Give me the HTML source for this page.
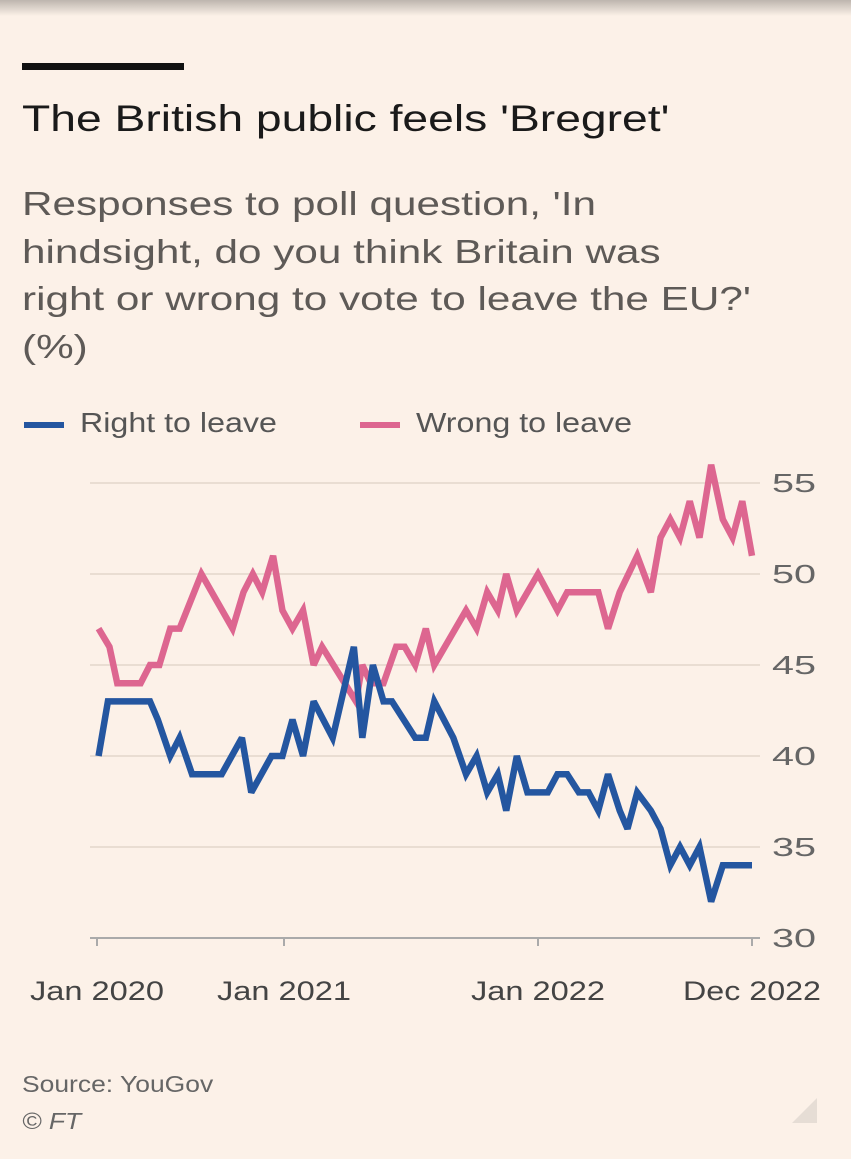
<!DOCTYPE html>
<html><head><meta charset="utf-8"><style>
body{margin:0;width:851px;height:1159px;background:#fcf1e8;font-family:"Liberation Sans",sans-serif;overflow:hidden;position:relative}
.t{position:absolute;white-space:nowrap;transform-origin:0 0}
</style></head><body>
<div style="position:absolute;left:0;top:0;width:851px;height:16px;background:linear-gradient(#bdb5ae,#fcf1e8)"></div>
<div style="position:absolute;left:22px;top:63px;width:162px;height:7px;background:#111"></div>
<div class="t" style="left:22px;top:98px;font-size:37px;color:#1a1a1a;transform:scaleX(1.25)">The British public feels 'Bregret'</div>
<div class="t" style="left:22px;top:180px;font-size:33px;line-height:47.5px;color:#5e5a57;transform:scaleX(1.28)">Responses to poll question, 'In<br>hindsight, do you think Britain was<br>right or wrong to vote to leave the EU?'<br>(%)</div>
<div style="position:absolute;left:24px;top:422px;width:40px;height:6px;background:#2456a0"></div>
<div class="t" style="left:80px;top:407px;font-size:28px;color:#555;transform:scaleX(1.15)">Right to leave</div>
<div style="position:absolute;left:360px;top:422px;width:40px;height:6px;background:#dd6690"></div>
<div class="t" style="left:416px;top:407px;font-size:28px;color:#555;transform:scaleX(1.15)">Wrong to leave</div>
<svg id="c" width="851" height="1020" style="position:absolute;left:0;top:0"></svg>
<div class="t" style="left:22px;top:1071px;font-size:23px;color:#666;transform:scaleX(1.15)">Source: YouGov</div>
<div class="t" style="left:22px;top:1108px;font-size:23px;color:#666;font-style:italic;transform:scaleX(1.15)">© FT</div>
<div style="position:absolute;left:792px;top:1098px;width:0;height:0;border-left:25px solid transparent;border-bottom:25px solid #e6ddd5"></div>
<script>
const yTicks=[30,35,40,45,50,55];
const xTickMonths=[0,12,24,35];
const xTickLabels=["Jan 2020","Jan 2021","Jan 2022","Dec 2022"];
const wrongMonths=[0.1,0.8,1.3,2.8,3.4,4.0,4.7,5.3,6.7,8.7,9.4,10.0,10.6,11.3,11.9,12.4,12.9,13.4,13.8,15.4,15.7,16.1,16.7,17.3,17.7,18.2,18.7,19.1,20.6,21.1,21.6,22.1,22.5,23.0,24.0,25.0,25.5,27.1,27.6,28.2,29.1,29.8,30.3,30.8,31.3,31.8,32.3,32.9,33.5,34.0,34.5,35.0];
const wrongValues=[47,46,44,44,45,45,47,47,50,47,49,50,49,51,48,47,48,45,46,43,45,44,44,46,46,45,47,45,48,47,49,48,50,48,50,48,49,49,47,49,51,49,52,53,52,54,52,56,53,52,54,51];
const rightMonths=[0.1,0.7,3.4,3.9,4.7,5.3,6.1,8.0,9.3,9.9,11.2,11.9,12.4,12.9,13.4,14.3,15.3,15.7,16.2,16.7,17.1,18.2,18.7,19.1,20.0,20.6,21.1,21.6,22.1,22.5,23.0,23.5,24.5,25.0,25.5,26.1,26.6,27.1,27.6,28.2,28.6,29.1,29.8,30.3,30.8,31.3,31.8,32.3,32.9,33.5,35.0];
const rightValues=[40,43,43,42,40,41,39,39,41,38,40,40,42,40,43,41,46,41,45,43,43,41,41,43,41,39,40,38,39,37,40,38,38,39,39,38,38,37,39,37,36,38,37,36,34,35,34,35,32,34,34];
const domX=[0,12,24,35],rngX=[97,284,538,752];
function sx(m){for(let i=0;i<3;i++){if(m<=domX[i+1]||i==2){return rngX[i]+(m-domX[i])*(rngX[i+1]-rngX[i])/(domX[i+1]-domX[i]);}}}
function sy(v){return 938-(v-30)*(938-483)/25;}
const svg=document.getElementById('c'),NS='http://www.w3.org/2000/svg';
function mk(t,a){const e=document.createElementNS(NS,t);for(const k in a)e.setAttribute(k,a[k]);svg.appendChild(e);return e;}
yTicks.forEach(v=>{
 if(v>30){const g=mk('line',{x1:90,x2:760,y1:sy(v),y2:sy(v),stroke:'#e9ddd2','stroke-width':2});
 
 }
 const t=mk('text',{x:772,y:sy(v)+9,'font-size':26,fill:'#666','font-family':'Liberation Sans, sans-serif',textLength:44,lengthAdjust:'spacingAndGlyphs'});t.textContent=v;
 
 
});
const ax=mk('line',{x1:90,x2:760,y1:938,y2:938,stroke:'#aaa','stroke-width':2});


xTickMonths.forEach((m,i)=>{
 const tk=mk('line',{x1:sx(m),x2:sx(m),y1:938,y2:946,stroke:'#aaa','stroke-width':2});
 
 
 const t=mk('text',{x:sx(m),y:1000,'font-size':27,fill:'#444','text-anchor':'middle','font-family':'Liberation Sans, sans-serif',textLength:xTickLabels[i].startsWith('Dec')?138:134,lengthAdjust:'spacingAndGlyphs'});t.textContent=xTickLabels[i];
 
 
});
function line(ms,vs,col,name){
 const p=mk('polyline',{points:ms.map((m,i)=>sx(m)+','+sy(vs[i])).join(' '),fill:'none',stroke:col,'stroke-width':6.5,'stroke-linejoin':'miter','stroke-miterlimit':3});
 
 
}
line(wrongMonths,wrongValues,'#dd6690','wrong-to-leave-line');
line(rightMonths,rightValues,'#2456a0','right-to-leave-line');
</script>
</body></html>
